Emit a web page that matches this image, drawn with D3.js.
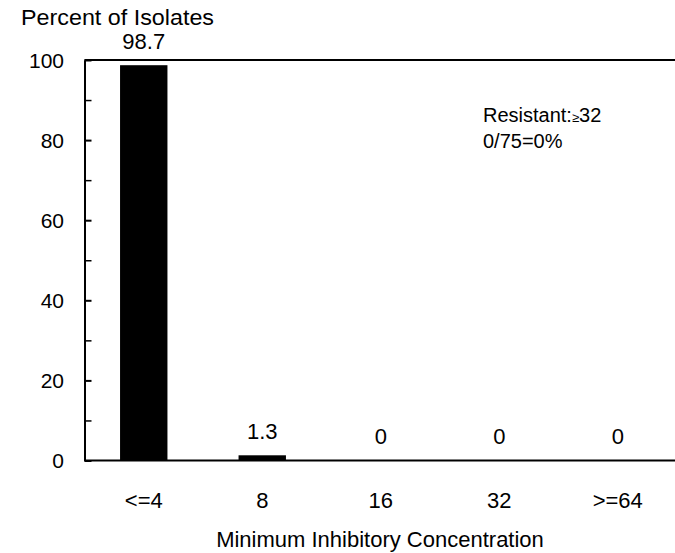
<!DOCTYPE html>
<html><head><meta charset="utf-8">
<script src="https://cdn.jsdelivr.net/npm/d3@7"></script>
<style>body{margin:0;background:#fff}text{font-family:"Liberation Sans",Arial,sans-serif;fill:#000}</style>
</head><body><svg id="c" width="675" height="553"></svg>
<script>
const categories = ["<=4","8","16","32",">=64"];
const values = [98.7,1.3,0,0,0];
const valueLabels = ["98.7","1.3","0","0","0"];
const yTicks = [0,20,40,60,80,100];
const yMinorTicks = [10,30,50,70,90];

(function(){
const svg = d3.select("#c");
const pLeft = 84.5, pRight = 677, pTop = 60, pBottom = 460.5;
const x = d3.scaleBand().domain(categories).range([pLeft, pRight]).paddingInner(0.6).paddingOuter(0.3);
const y = d3.scaleLinear().domain([0,100]).range([pBottom, pTop]);

svg.selectAll("rect.bar").data(values).enter().append("rect")
  .attr("x",(d,i)=>x(categories[i])).attr("width",x.bandwidth())
  .attr("y",d=>y(d)).attr("height",d=>y(0)-y(d)).attr("fill","#000");

svg.append("line").attr("x1",pLeft).attr("x2",675).attr("y1",pTop).attr("y2",pTop).attr("stroke","#000").attr("stroke-width",2);
svg.append("line").attr("x1",pLeft).attr("x2",675).attr("y1",pBottom).attr("y2",pBottom).attr("stroke","#000").attr("stroke-width",2);

const ya = svg.append("g").attr("transform",`translate(${pLeft},0)`)
  .call(d3.axisRight(y).tickValues(yTicks).tickSize(7).tickSizeOuter(0).tickFormat(""));
ya.select(".domain").attr("stroke-width",2);
ya.selectAll(".tick line").attr("stroke-width",2);
const ym = svg.append("g").attr("transform",`translate(${pLeft},0)`)
  .call(d3.axisRight(y).tickValues(yMinorTicks).tickSize(7).tickFormat(""));
ym.select(".domain").remove();
ym.selectAll(".tick line").attr("stroke-width",1.5);

svg.selectAll("text.yl").data(yTicks).enter().append("text")
  .attr("x",64).attr("y",d=>y(d)+7.5).attr("text-anchor","end").attr("font-size",21).text(d=>d);

svg.selectAll("text.xl").data(categories).enter().append("text")
  .attr("x",d=>x(d)+x.bandwidth()/2).attr("y",508).attr("text-anchor","middle").attr("font-size",22).text(d=>d);

svg.selectAll("text.vl").data(values).enter().append("text")
  .attr("x",(d,i)=>x(categories[i])+x.bandwidth()/2).attr("y",d=>Math.max(45, y(d)-16.5))
  .attr("text-anchor","middle").attr("font-size",22).text((d,i)=>valueLabels[i]);

svg.append("text").attr("transform","translate(21,25) scale(1.06,1)").attr("font-size",22).text("Percent of Isolates");
svg.append("text").attr("x",380).attr("y",547).attr("text-anchor","middle").attr("font-size",22).text("Minimum Inhibitory Concentration");

const t1 = svg.append("text").attr("x",483).attr("y",122).attr("font-size",20);
t1.append("tspan").text("Resistant:");
t1.append("tspan").attr("font-size",13).text("\u2265");
t1.append("tspan").text("32");
svg.append("text").attr("x",483).attr("y",148).attr("font-size",20).text("0/75=0%");
})();
</script></body></html>
